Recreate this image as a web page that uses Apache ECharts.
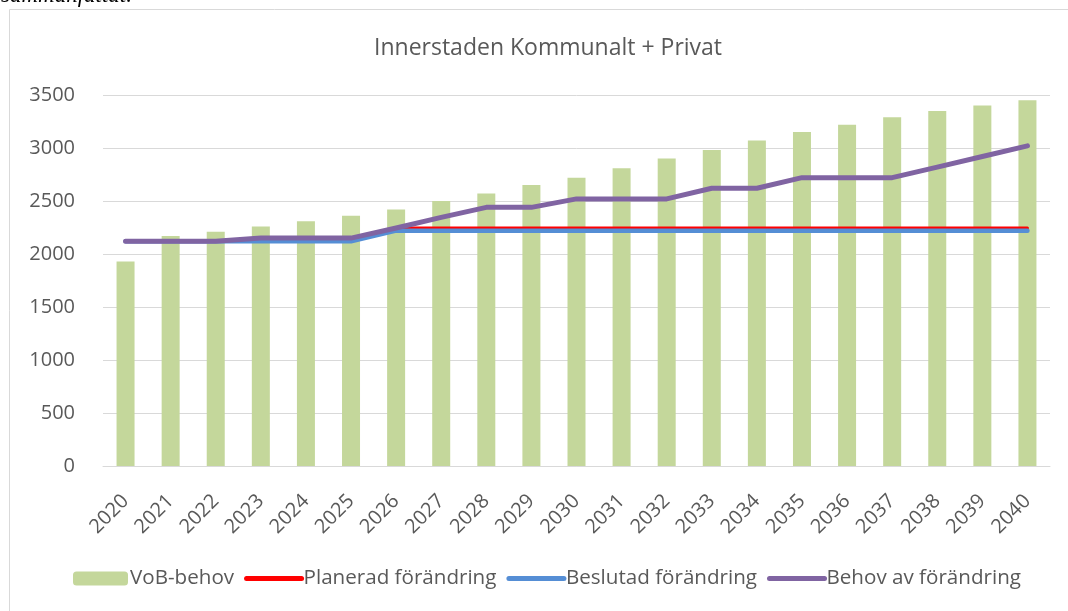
<!DOCTYPE html>
<html>
<head>
<meta charset="utf-8">
<script src="https://cdn.jsdelivr.net/npm/echarts@6/dist/echarts.min.js"></script>
<style>
html,body{margin:0;padding:0;background:#fff;}
#chart{width:1068px;height:611px;}
</style>
</head>
<body>
<div id="chart"></div>
<script>
var years = ['2020','2021','2022','2023','2024','2025','2026','2027','2028','2029','2030','2031','2032','2033','2034','2035','2036','2037','2038','2039','2040'];
var vobBehov = [1930,2170,2210,2260,2310,2360,2420,2500,2570,2650,2720,2810,2900,2980,3070,3150,3220,3290,3350,3400,3450];
var planerad = [2120,2120,2120,2150,2150,2150,2245,2245,2245,2245,2245,2245,2245,2245,2245,2245,2245,2245,2245,2245,2245];
var beslutad = [2120,2120,2120,2120,2120,2120,2220,2220,2220,2220,2220,2220,2220,2220,2220,2220,2220,2220,2220,2220,2220];
var behov = [2120,2120,2120,2150,2150,2150,2245,2345,2440,2440,2520,2520,2520,2620,2620,2720,2720,2720,2820,2920,3020];
var yTicks = [0,500,1000,1500,2000,2500,3000,3500];
var seriesNames = ['VoB-behov','Planerad förändring','Beslutad förändring','Behov av förändring'];

var FONT = '"Open Sans", sans-serif';
var TXT = '#595959';
var RED = '#FF0000', BLUE = '#558ED5', PURPLE = '#8064A2', GREEN = '#C4D79B';
var chart = echarts.init(document.getElementById('chart'), null, {renderer:'canvas'});
function lineLegend(name, color, w) {
  return {name: name, itemStyle: {color: 'rgba(0,0,0,0)', borderWidth: 0, opacity: 0},
          lineStyle: {color: color, width: w, cap: 'round'}};
}
chart.setOption({
  animation: false,
  backgroundColor: '#ffffff',
  graphic: [
    {type:'rect', shape:{x:9.5,y:9.5,width:1200,height:800}, style:{fill:'none', stroke:'#D9D9D9', lineWidth:1}, z:-10},
    {type:'text', left:1, top:-16, style:{text:'sammanfattat.', font:'italic 23px "Liberation Serif", serif', fill:'#000'}}
  ],
  title: {
    text: 'Innerstaden Kommunalt + Privat',
    left: 369,
    top: 32,
    textStyle: {fontFamily: FONT, fontSize: 23, fontWeight: 'normal', color: TXT}
  },
  legend: {
    left: 73,
    top: 568,
    padding: 0,
    itemWidth: 55,
    itemHeight: 14,
    itemGap: 10,
    data: [
      {name: seriesNames[0]},
      lineLegend(seriesNames[1], RED, 5),
      lineLegend(seriesNames[2], BLUE, 5),
      lineLegend(seriesNames[3], PURPLE, 5)
    ],
    textStyle: {fontFamily: FONT, fontSize: 20.6, color: TXT, padding:[0,0,0,-3]}
  },
  grid: {left: 103, right: 18, top: 95, bottom: 145, containLabel: false},
  xAxis: {
    type: 'category',
    data: years,
    axisLine: {lineStyle: {color: '#D9D9D9', width: 1}},
    axisTick: {show: false},
    axisLabel: {rotate: 45, margin: 32, fontFamily: FONT, fontSize: 20, color: TXT, interval: 0}
  },
  yAxis: {
    type: 'value',
    min: yTicks[0],
    max: yTicks[yTicks.length-1],
    interval: yTicks[1]-yTicks[0],
    axisLine: {show: false},
    axisTick: {show: false},
    splitLine: {lineStyle: {color: '#D9D9D9', width: 1}},
    axisLabel: {margin: 28, fontFamily: FONT, fontSize: 20, color: TXT,
                formatter: function (v) { return String(v); }}
  },
  series: [
    {name: seriesNames[0], type: 'bar', data: vobBehov, barWidth: 18,
     itemStyle: {color: GREEN}},
    {name: seriesNames[1], type: 'line', data: planerad, symbol: 'none',
     lineStyle: {color: RED, width: 3, cap: 'round', join: 'round'}, itemStyle: {color: RED}},
    {name: seriesNames[2], type: 'line', data: beslutad, symbol: 'none',
     lineStyle: {color: BLUE, width: 4.5, cap: 'round', join: 'round'}, itemStyle: {color: BLUE}},
    {name: seriesNames[3], type: 'line', data: behov, symbol: 'none',
     lineStyle: {color: PURPLE, width: 5, cap: 'round', join: 'round'}, itemStyle: {color: PURPLE}}
  ]
});
</script>
</body>
</html>
